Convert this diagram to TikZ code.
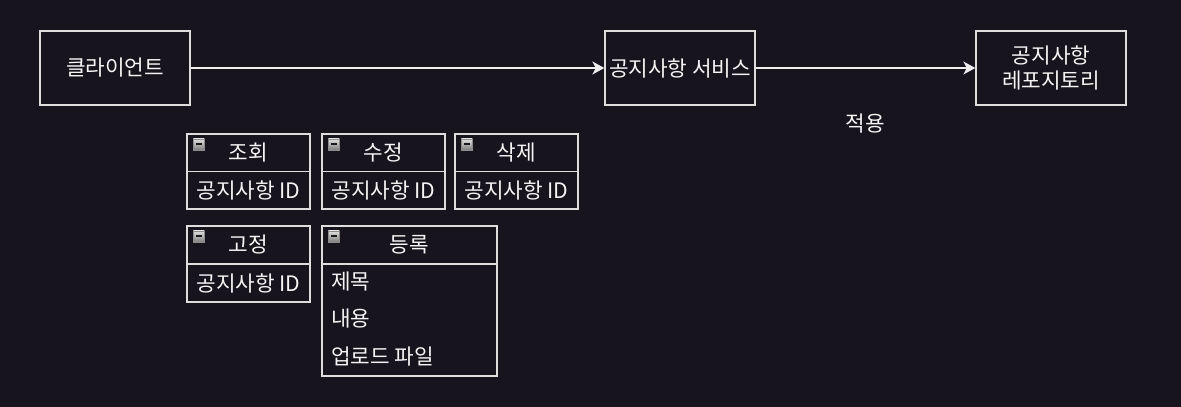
\documentclass[tikz,border=0pt]{standalone}
\usepackage{fontspec}
\setmainfont{Noto Sans CJK KR}
\usetikzlibrary{arrows.meta,positioning}
\definecolor{bgc}{RGB}{24,20,29}
\definecolor{linec}{RGB}{222,222,222}
\definecolor{edgec}{RGB}{238,238,238}
\definecolor{txtc}{RGB}{245,245,245}
\tikzset{
  fnt/.style={font=\fontsize{21.3pt}{25pt}\selectfont},
  box/.style={draw=linec, line width=1.3pt, fill=bgc, minimum width=150pt, minimum height=74pt,
    text=txtc, fnt, align=center, inner sep=0pt},
  cell/.style={draw=linec, line width=1.3pt, fill=bgc, anchor=north west, inner sep=0pt, outer sep=0pt,
    text=txtc, fnt},
  rowtxt/.style={anchor=west, inner sep=0pt, text=txtc, fnt},
  icon/.style={anchor=north west, minimum size=11pt, inner sep=0pt, draw=black!45, line width=0.6pt,
    top color=black!12, bottom color=black!50,
    path picture={\fill[black!90] ([xshift=2.3pt,yshift=0.9pt]path picture bounding box.west) rectangle ([xshift=-2.3pt,yshift=-0.9pt]path picture bounding box.east);}},
  edge/.style={draw=edgec, line width=1.3pt, -{Stealth[length=12pt,width=13pt,inset=3.5pt]}},
  lbl/.style={text=txtc, fnt, inner sep=0pt}
}
\begin{document}
\begin{tikzpicture}[x=1pt,y=-1pt]
\fill[bgc] (0,0) rectangle (1181,407);
\useasboundingbox (0,0) rectangle (1181,407);
% main boxes
\node[box] (client) at (115,68) {클라이언트};
\node[box] (service) at (680,68) {공지사항 서비스};
\node[box] (repo) at (1051,68) {공지사항\\레포지토리};
\draw[edge] (client) -- (service);
\draw[edge] (service) -- node[lbl, midway, yshift=-56pt] (apply) {적용} (repo);
% 조회
\node[cell, minimum width=123pt, minimum height=37.5pt] (qh) at (187,134) {조회};
\node[cell, minimum width=123pt, minimum height=37.5pt] (qb) at (qh.south west) {공지사항 ID};
\node[icon] (qi) at ([xshift=6pt,yshift=-4.5pt]qh.north west) {};
% 수정
\node[cell, minimum width=123pt, minimum height=37.5pt] (eh) at (322,134) {수정};
\node[cell, minimum width=123pt, minimum height=37.5pt] (eb) at (eh.south west) {공지사항 ID};
\node[icon] (ei) at ([xshift=6pt,yshift=-4.5pt]eh.north west) {};
% 삭제
\node[cell, minimum width=123pt, minimum height=37.5pt] (dh) at (455,134) {삭제};
\node[cell, minimum width=123pt, minimum height=37.5pt] (db) at (dh.south west) {공지사항 ID};
\node[icon] (di) at ([xshift=6pt,yshift=-4.5pt]dh.north west) {};
% 고정
\node[cell, minimum width=123pt, minimum height=38pt] (ph) at (187,226) {고정};
\node[cell, minimum width=123pt, minimum height=38pt] (pb) at (ph.south west) {공지사항 ID};
\node[icon] (pi) at ([xshift=6pt,yshift=-4.5pt]ph.north west) {};
% 등록
\node[cell, minimum width=175pt, minimum height=38pt] (rh) at (322,226) {등록};
\node[cell, minimum width=175pt, minimum height=112pt] (rb) at (rh.south west) {};
\node[icon] (ri) at ([xshift=6pt,yshift=-4.5pt]rh.north west) {};
\node[rowtxt] (r1) at (331,282) {제목};
\node[rowtxt] (r2) at (331,319) {내용};
\node[rowtxt] (r3) at (331,357) {업로드 파일};
\end{tikzpicture}
\end{document}
